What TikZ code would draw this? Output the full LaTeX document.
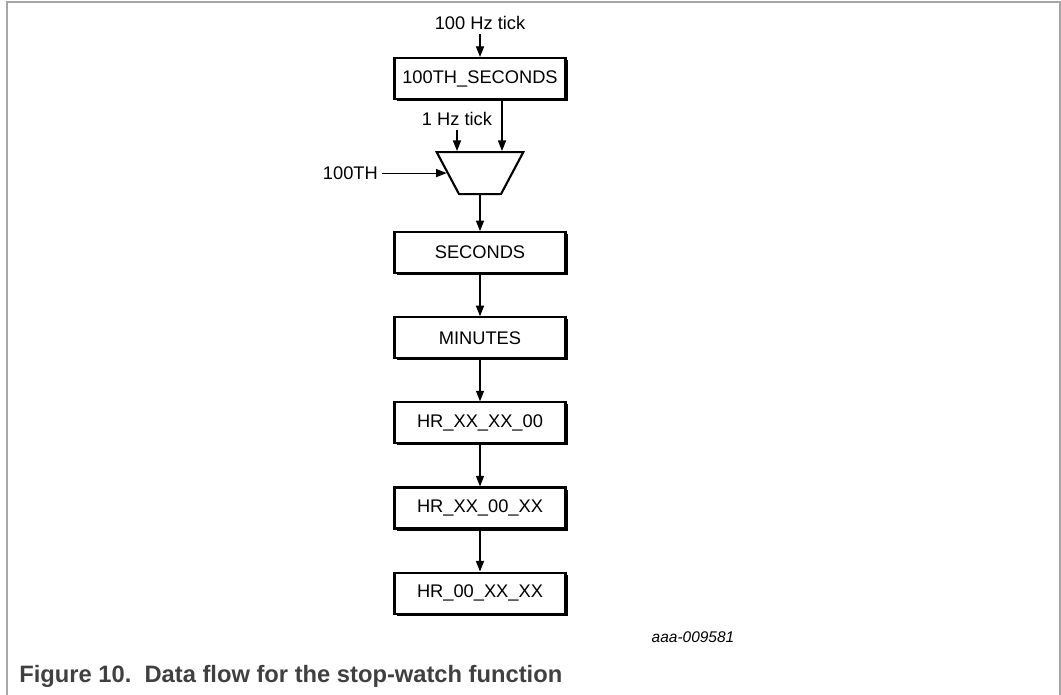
\documentclass[tikz,border=0pt]{standalone}
\usepackage{fontspec}
\setmainfont{Liberation Sans}
\usetikzlibrary{shapes.geometric,positioning,arrows.meta,shadows}

\begin{document}
\begin{tikzpicture}[x=0.02cm,y=-0.02cm,
    >={Triangle[length=6pt,width=4.6pt]},
    node distance=0.84cm,
    every node/.style={font=\fontsize{10.4}{12}\selectfont},
    reg/.style={draw,line width=1.2pt,fill=white,minimum width=3.42cm,
                minimum height=0.82cm,inner sep=0pt,
                drop shadow={shadow xshift=1.2pt,shadow yshift=-1.2pt,
                             fill=black,opacity=1}},
    muxshape/.style={draw,line width=1.2pt,trapezium,shape border rotate=180,
                     trapezium angle=62,
                     minimum width=1.72cm,minimum height=0.84cm,inner sep=1pt},
    lbl/.style={inner sep=2pt},
    flow/.style={->,line width=0.6pt},
    frame/.style={black!35,line width=0.8pt}]

  \useasboundingbox (0,0) rectangle (1061,695);
  \draw[frame] (7,695) -- (7,2) -- (1060,2) -- (1060,695);

  % register chain
  \node[reg] (hund) at (480,78.5) {100TH\_SECONDS};
  \node[muxshape] (mux) [below=1.02cm of hund] {};
  \node[reg] (sec) [below=0.72cm of mux] {SECONDS};
  \node[reg] (min) [below=of sec] {MINUTES};
  \node[reg] (hr1) [below=of min] {HR\_XX\_XX\_00};
  \node[reg] (hr2) [below=of hr1] {HR\_XX\_00\_XX};
  \node[reg] (hr3) [below=of hr2] {HR\_00\_XX\_XX};

  % inputs
  \node[lbl] (tick100) [above=0.46cm of hund] {100 Hz tick};
  \node[lbl] (tick1) at (457,119) {1 Hz tick};
  \node[lbl] (th100) [left=1.3cm of mux.180] {100TH};

  \path[flow] (tick100) edge (hund)
        (tick1.south) edge (tick1.south |- mux.north)
        ([xshift=0.44cm]hund.south) edge ([xshift=0.44cm]mux.north)
        (th100) edge (mux)
        (mux) edge (sec)
        (sec) edge (min)
        (min) edge (hr1)
        (hr1) edge (hr2)
        (hr2) edge (hr3);

  \node[font=\itshape\fontsize{8.8}{10}\selectfont] (code) at (693,637) {aaa-009581};
  \node[anchor=base west,inner sep=0pt,text=black!75,
        font=\bfseries\fontsize{13.5}{16}\selectfont] (caption) at (19,682)
        {Figure 10.\ \ Data flow for the stop-watch function};
\end{tikzpicture}
\end{document}
